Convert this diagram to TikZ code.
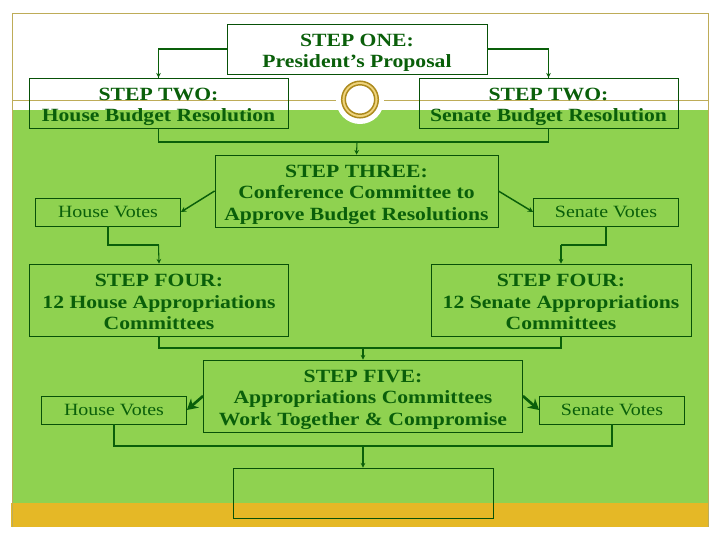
\documentclass[tikz,border=0pt]{standalone}
\usepackage{fontspec}
\setmainfont[FakeStretch=1.16]{Liberation Serif}
\usetikzlibrary{arrows.meta}
\usetikzlibrary{math}
\definecolor{leaf}{RGB}{143,210,80}
\definecolor{gold}{RGB}{229,184,38}
\definecolor{tan}{RGB}{190,172,88}
\definecolor{ink}{RGB}{10,95,10}
\newcommand{\topline}{\rule{0pt}{15pt}}
\tikzset{
    plainbox/.style={draw=ink!85!black,line width=0.6pt,rectangle,align=center,inner sep=0pt,text=ink},
    stepbox/.style={plainbox,font=\fontsize{14}{16.2}\selectfont\bfseries,
        execute at end node={\rule[-3pt]{0pt}{3pt}}},
    votebox/.style={plainbox,minimum width=108.75pt,minimum height=21pt,
        font=\fontsize{12.9}{15}\selectfont},
    link/.style={draw=ink,line width=1.1pt},
    thinlink/.style={draw=ink,line width=0.9pt},
    tip/.style={draw=ink,line width=0.8pt,-{Stealth[length=3.5pt,width=3.5pt]}},
    slant/.style={draw=ink,line width=1.1pt,-{Stealth[length=4pt,width=4pt]}},
    fat/.style={draw=ink,line width=2pt,-{Stealth[length=8pt,width=9pt]}},
}
\begin{document}
\begin{tikzpicture}[x=0.75pt,y=-0.75pt]
    \tikzmath{  \xl = 158.5 ;
                \xc = 357 ;
                \xr = 548.5 ;
                \xm = 363 ;
                \yb = 142 ;
                \yh = 245 ;
                \yf = 348 ;
                \yv = 446 ;
                }
    \useasboundingbox (0,0) rectangle (720,540);
    % page behind the boxes
    \fill[white] (0,0) rectangle (720,540);
    \fill[leaf] (12,110) rectangle (708,503);
    \fill[gold] (11,503) rectangle (708,527);
    \draw[tan,line width=0.7pt] (12,527) -- (12,13) -- (708,13) -- (708,527);
    \fill[white] (360,100) circle[radius=24*0.75pt];
    \draw[tan,line width=0.7pt] (12,100) -- (336,100);
    \draw[tan,line width=0.7pt] (384,100) -- (708,100);
    \draw[gold!60!white,line width=2.6pt] (360,99.5) circle[radius=16.5*0.75pt];
    \draw[gold!75!black,line width=1.1pt] (360,99.5) circle[radius=18.3*0.75pt];
    \draw[gold!75!black,line width=1.1pt] (360,99.5) circle[radius=14.7*0.75pt];

    \node[stepbox,minimum width=195pt,minimum height=37.5pt] (prop) at (357,49) {\topline STEP ONE:\\ President’s Proposal};
    \node[stepbox,minimum width=194.25pt,minimum height=37.5pt] (hbudget) at (\xl,103) {\topline STEP TWO:\\ House Budget Resolution};
    \node[stepbox,minimum width=194.25pt,minimum height=37.5pt] (sbudget) at (\xr,103) {\topline STEP TWO:\\ Senate Budget Resolution};
    \node[stepbox,minimum width=212.25pt,minimum height=54pt] (conf) at (356.5,191) {\topline STEP THREE:\\ Conference Committee to\\ Approve Budget Resolutions};
    \node[votebox] (hvotes) at (108,212) {House Votes};
    \node[votebox] (svotes) at (606,212) {Senate Votes};
    \node[stepbox,minimum width=194.25pt,minimum height=54pt] (happ) at (159,300) {\topline STEP FOUR:\\ 12 House Appropriations\\ Committees};
    \node[stepbox,minimum width=195pt,minimum height=54pt] (sapp) at (561,300) {\topline STEP FOUR:\\ 12 Senate Appropriations\\ Committees};
    \node[stepbox,minimum width=239.25pt,minimum height=54pt] (comp) at (\xm,396) {\topline STEP FIVE:\\ Appropriations Committees\\ Work Together \& Compromise};
    \node[votebox] (hfinal) at (114,410) {House Votes};
    \node[votebox] (sfinal) at (612,410) {Senate Votes};
    \node[plainbox,minimum width=195pt,minimum height=37.5pt] (law) at (\xm,493) {};

    \coordinate (budgetjoin) at (\xc,\yb);
    \coordinate (appjoin) at (\xm,\yf);
    \coordinate (votejoin) at (\xm,\yv);

    \draw[link] (prop.west) -| (hbudget.north);
    \draw[link] (prop.east) -| (sbudget.north);
    \draw[tip] (\xl,72) -- (hbudget.north);
    \draw[tip] (\xr,72) -- (sbudget.north);
    \draw[link] (hbudget.south) |- (budgetjoin);
    \draw[link] (sbudget.south) |- (budgetjoin);
    \draw[tip] (budgetjoin) -- (conf.north);
    \draw[slant] (conf.west |- 0,191) -- (hvotes.east);
    \draw[slant] (conf.east |- 0,191) -- (svotes.west);
    \draw[thinlink] (hvotes.south) |- (\xl,\yh);
    \draw[thinlink] (svotes.south) |- (561,\yh);
    \draw[tip] (\xl,\yh) -- (happ.north);
    \draw[tip] (561,\yh) -- (sapp.north);
    \draw[link] (happ.south) |- (appjoin);
    \draw[link] (sapp.south) |- (appjoin);
    \draw[tip] (appjoin) -- (comp.north);
    \draw[fat] (comp.west |- 0,396) -- (hfinal.east);
    \draw[fat] (comp.east |- 0,396) -- (sfinal.west);
    \draw[thinlink] (hfinal.south) |- (votejoin);
    \draw[thinlink] (sfinal.south) |- (votejoin);
    \draw[tip] (votejoin) -- (law.north);
\end{tikzpicture}
\end{document}
